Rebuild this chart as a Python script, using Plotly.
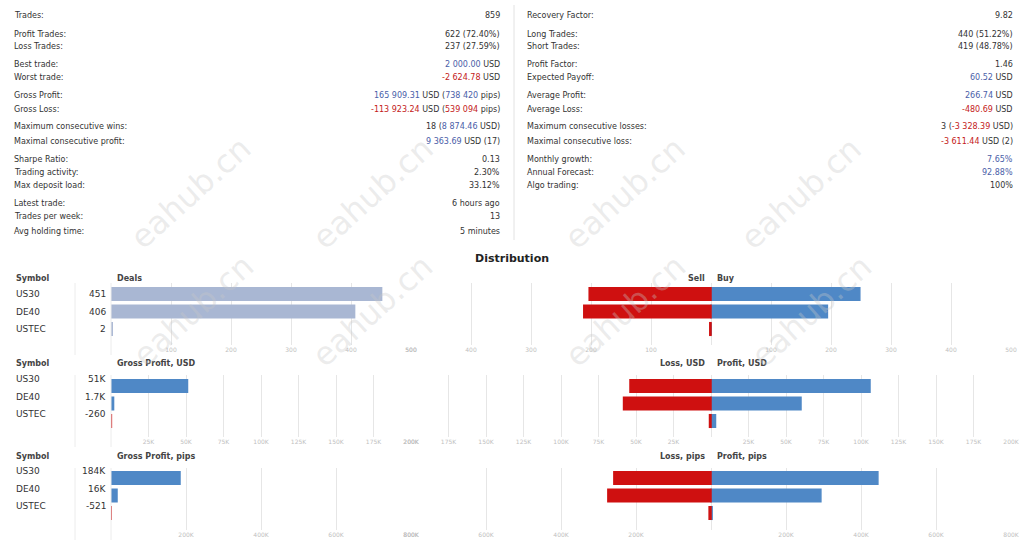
from plotly.graph_objs import Figure, Bar, Layout

W, H = 1024, 549

BLUE = '#4a5ea8'
RED = '#c41a1a'


def blue(s: str) -> str:
    return f"<span style='color:{BLUE}'>{s}</span>"


def red(s: str) -> str:
    return f"<span style='color:{RED}'>{s}</span>"


left_labels = ['Trades:', 'Profit Trades:', 'Loss Trades:', 'Best trade:', 'Worst trade:',
               'Gross Profit:', 'Gross Loss:', 'Maximum consecutive wins:',
               'Maximal consecutive profit:', 'Sharpe Ratio:', 'Trading activity:',
               'Max deposit load:', 'Latest trade:', 'Trades per week:', 'Avg holding time:']
left_values = ['859', '622 (72.40%)', '237 (27.59%)', blue('2 000.00') + ' USD',
               red('-2 624.78') + ' USD',
               blue('165 909.31') + ' USD (' + blue('738 420') + ' pips)',
               red('-113 923.24') + ' USD (' + red('539 094') + ' pips)',
               '18 (' + blue('8 874.46') + ' USD)', blue('9 363.69') + ' USD (17)',
               '0.13', '2.30%', '33.12%', '6 hours ago', '13', '5 minutes']
left_rows = [16, 34, 47, 65, 78, 96, 110, 127, 141, 159, 172, 186, 204, 217, 231]

right_labels = ['Recovery Factor:', 'Long Trades:', 'Short Trades:', 'Profit Factor:',
                'Expected Payoff:', 'Average Profit:', 'Average Loss:',
                'Maximum consecutive losses:', 'Maximal consecutive loss:',
                'Monthly growth:', 'Annual Forecast:', 'Algo trading:']
right_values = ['9.82', '440 (51.22%)', '419 (48.78%)', '1.46', blue('60.52') + ' USD',
                blue('266.74') + ' USD', red('-480.69') + ' USD',
                '3 (' + red('-3 328.39') + ' USD)', red('-3 611.44') + ' USD (2)',
                blue('7.65%'), blue('92.88%'), '100%']
right_rows = left_rows[:12]

symbols = ['US30', 'DE40', 'USTEC']

deals = [451, 406, 2]
deals_text = ['451', '406', '2']
buy = [248, 194, 0]
sell = [203, 212, 2]

net_usd = [51000, 1700, -260]
net_usd_text = ['51K', '1.7K', '-260']
profit_usd = [106000, 60000, 3000]
loss_usd = [54000, 58300, 1000]

net_pips = [184000, 16000, -521]
net_pips_text = ['184K', '16K', '-521']
profit_pips = [445000, 293000, 3000]
loss_pips = [259000, 275000, 5000]


def px(x):
    return x / W


def py(y):
    return 1 - y / H


def k(v):
    return f'{int(v / 1000)}K' if v else ''


def add_axes(fig, n, xdom, ydom, xrange, tickvals, ticktext, top_px):
    xname = 'xaxis' if n == 1 else f'xaxis{n}'
    yname = 'yaxis' if n == 1 else f'yaxis{n}'
    ytop = -(top_px - ydom[0]) / 17.5
    ybot = 2 + (ydom[1] - top_px - 35) / 17.5
    fig.update_layout({
        xname: dict(domain=[px(xdom[0]), px(xdom[1])], range=xrange, tickvals=tickvals,
                    ticktext=ticktext, showgrid=True, gridcolor='#e6e6e6', gridwidth=1,
                    zeroline=False, showline=False, ticks='', automargin=False,
                    tickfont=dict(size=6, color='#c0c0c0'),
                    anchor='y' if n == 1 else f'y{n}'),
        yname: dict(domain=[py(ydom[1]), py(ydom[0])], range=[ybot, ytop], visible=False,
                    automargin=False, anchor='x' if n == 1 else f'x{n}'),
    })


def axis_ref(n):
    return ('x', 'y') if n == 1 else (f'x{n}', f'y{n}')


def draw_stats(fig):
    anns = []
    for labels, values, rows, x0, x1 in [(left_labels, left_values, left_rows, 12, 502),
                                         (right_labels, right_values, right_rows, 525, 1015)]:
        for lab, val, y in zip(labels, values, rows):
            anns.append(dict(x=px(x0), y=py(y), text=lab, xanchor='left'))
            anns.append(dict(x=px(x1), y=py(y), text=val, xanchor='right'))
    for a in anns:
        a.update(xref='paper', yref='paper', showarrow=False, yanchor='middle',
                 font=dict(size=8, color='#333333'))
        fig.add_annotation(**a)
    fig.add_shape(type='line', xref='paper', yref='paper', x0=px(514), x1=px(514),
                  y0=py(5), y1=py(240), line=dict(color='#e2e2e2', width=1))


def draw_panel(fig, row, n, header_left, header_l, header_r, left_vals, left_text,
               right_pos, right_neg, left_max, right_max, step, fmt):
    top = [283, 375, 468][row]
    centers = [294, 386, 478][row]
    ydom = (top, top + 62)
    lv = [step * i for i in range(1, int(left_max / step) + 1)]
    add_axes(fig, n, (111, 411), ydom, [0, left_max], lv, [fmt(v) for v in lv], centers)
    rv = [step * i for i in range(-int(right_max / step), int(right_max / step) + 1)]
    add_axes(fig, n + 1, (411, 1011), ydom, [-right_max, right_max], rv,
             [fmt(abs(v)) for v in rv], centers)

    colors = []
    for v in left_vals:
        if n == 1:
            colors.append('#a9b7d3')
        elif v >= 0:
            colors.append('#4f88c6')
        else:
            colors.append('#cf1010')
    xa, ya = axis_ref(n)
    fig.add_trace(Bar(x=[abs(v) for v in left_vals], y=[0, 1, 2], orientation='h', width=0.72,
                      marker=dict(color=colors, line=dict(color=colors, width=1.5)),
                      xaxis=xa, yaxis=ya, hoverinfo='none'))
    xa, ya = axis_ref(n + 1)
    fig.add_trace(Bar(x=right_pos, y=[0, 1, 2], orientation='h', width=0.72,
                      marker=dict(color='#4f88c6', line=dict(color='#4f88c6', width=1.5)),
                      xaxis=xa, yaxis=ya, hoverinfo='none'))
    fig.add_trace(Bar(x=[-v for v in right_neg], y=[0, 1, 2], orientation='h', width=0.72,
                      marker=dict(color='#cf1010', line=dict(color='#cf1010', width=1.5)),
                      xaxis=xa, yaxis=ya, hoverinfo='none'))

    hy = top - 5
    heads = [(14, 'Symbol', 'left'), (115, header_left, 'left'),
             (707, header_l, 'right'), (715, header_r, 'left')]
    for x, t, anc in heads:
        fig.add_annotation(x=px(x), y=py(hy), text=f'<b>{t}</b>', xanchor=anc,
                           font=dict(size=8, color='#444444'))
    for i, (s, t) in enumerate(zip(symbols, left_text)):
        y = centers + i * 17.5
        fig.add_annotation(x=px(14), y=py(y), text=s, xanchor='left',
                           font=dict(size=9, color='#333333'))
        fig.add_annotation(x=px(108), y=py(y), text=t, xanchor='right',
                           font=dict(size=9, color='#333333'))
    for x in (75, 111):
        fig.add_shape(type='line', xref='paper', yref='paper', x0=px(x), x1=px(x),
                      y0=py(top), y1=py(top + 72), line=dict(color='#ececec', width=1))


fig = Figure(layout=Layout(width=W, height=H, margin=dict(l=0, r=0, t=0, b=0, pad=0),
                           paper_bgcolor='white', plot_bgcolor='white', showlegend=False,
                           barmode='relative',
                           font=dict(family='DejaVu Sans', size=8, color='#333333')))

draw_stats(fig)
fig.add_annotation(x=0.5, y=py(258), xref='paper', yref='paper', text='<b>Distribution</b>',
                   showarrow=False, font=dict(size=11, color='#222222'))

draw_panel(fig, 0, 1, 'Deals', 'Sell', 'Buy', deals, deals_text, buy, sell,
           500, 500, 100, lambda v: str(v) if v else '')
draw_panel(fig, 1, 3, 'Gross Profit, USD', 'Loss, USD', 'Profit, USD', net_usd, net_usd_text,
           profit_usd, loss_usd, 200000, 200000, 25000, k)
draw_panel(fig, 2, 5, 'Gross Profit, pips', 'Loss, pips', 'Profit, pips', net_pips,
           net_pips_text, profit_pips, loss_pips, 800000, 800000, 200000, k)

# watermarks
for wx, wy in [(120, 127), (373, 127), (625, 127), (872, 127),
               (122, 377), (372, 377), (625, 377), (882, 377)]:
    fig.add_annotation(x=px(wx), y=py(wy), xref='paper', yref='paper', text='eahub.cn',
                       textangle=-42, showarrow=False,
                       font=dict(size=32, color='rgba(200,200,200,0.35)', family='DejaVu Sans'))

for a in fig.layout.annotations:
    a.showarrow = False
    a.xref = 'paper'
    a.yref = 'paper'

fig.write_html('out.html', config={'displayModeBar': False},
               post_script="document.body.style.margin='0';"
                           "document.body.style.overflow='hidden';")
